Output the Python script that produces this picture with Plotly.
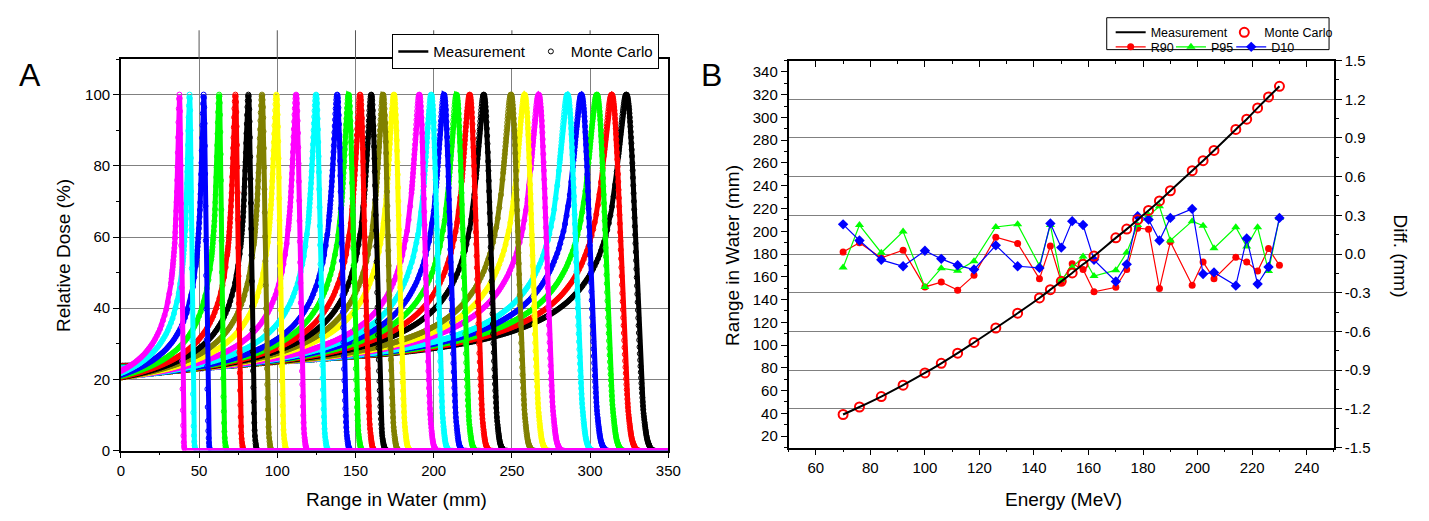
import numpy as np
import plotly.graph_objects as go

# ---------------- Panel A data ----------------
peak_depths_mm = [37.4, 43.9, 52.9, 62.8, 73.2, 81.5, 90.2, 99.4, 112.0, 124.8,
                  138.3, 145.6, 152.9, 160.1, 167.6, 174.6, 190.8, 198.4, 206.6, 214.6,
                  223.0, 232.0, 249.4, 258.1, 267.1, 285.5, 294.4, 304.3, 313.8, 323.2]
palette = ["#FF00FF", "#00FFFF", "#0000FF", "#00FF00", "#FF0000", "#000000", "#808000", "#FFFF00"]
xticks_A = [0, 50, 100, 150, 200, 250, 300, 350]
yticks_A = [0, 20, 40, 60, 80, 100]

# ---------------- Panel B data ----------------
energies_MeV = [70, 76, 84, 92, 100, 106, 112, 118, 126, 134, 142, 146, 150, 154, 158,
                162, 170, 174, 178, 182, 186, 190, 198, 202, 206, 214, 218, 222, 226, 230]
range_measured = [39.0, 45.6, 54.8, 64.8, 75.5, 84.0, 92.9, 102.3, 115.0, 128.0, 141.4, 148.7,
                  156.0, 163.4, 171.0, 178.2, 194.2, 201.9, 210.2, 218.3, 226.7, 235.6, 253.2,
                  262.0, 271.0, 289.5, 298.5, 308.4, 318.0, 327.4]
range_mc = [39.0, 45.6, 54.8, 64.8, 75.5, 84.0, 92.9, 102.3, 115.0, 128.0, 141.4, 148.7,
            156.0, 163.4, 171.0, 178.2, 194.2, 201.9, 210.2, 218.3, 226.7, 235.6, 253.2,
            262.0, 271.0, 289.5, 298.5, 308.4, 318.0, 327.4]
diff_r90 = [0.015, 0.0875, -0.03, 0.03, -0.255, -0.2175, -0.28, -0.165, 0.13, 0.0825,
            -0.1925, 0.0625, -0.215, -0.075, -0.12, -0.2925, -0.2575, -0.12, 0.2, 0.1925,
            -0.2675, 0.095, -0.2425, -0.0625, -0.1925, -0.025, -0.0625, -0.1325, 0.0425, -0.0875]
diff_p95 = [-0.105, 0.225, 0.01, 0.175, -0.255, -0.11, -0.13, -0.055, 0.21, 0.23,
            -0.09, 0.225, -0.2, -0.105, -0.02, -0.17, -0.125, 0.0125, 0.225, 0.3,
            0.37, 0.105, 0.255, 0.22, 0.045, 0.2075, 0.0575, 0.2075, -0.1325, 0.28]
diff_d10 = [0.23, 0.105, -0.045, -0.095, 0.025, -0.0375, -0.0875, -0.12, 0.0675, -0.095,
            -0.1075, 0.2375, 0.05, 0.255, 0.225, -0.045, -0.2125, -0.08, 0.2925, 0.2675,
            0.105, 0.28, 0.35, -0.155, -0.1425, -0.245, 0.12, -0.2325, -0.1, 0.28]
xticks_B = [60, 80, 100, 120, 140, 160, 180, 200, 220, 240]
yticks_B_left = list(range(20, 341, 20))
yticks_B_right = [-1.5, -1.2, -0.9, -0.6, -0.3, 0.0, 0.3, 0.6, 0.9, 1.2, 1.5]
yticktext_B_right = ["-1.5", "-1.2", "-0.9", "-0.6", "-0.3", "0.0", "0.3", "0.6", "0.9", "1.2", "1.5"]

# ---------------- Bragg curve shape (Bortfeld-type model) ----------------
P_EXP = 1.77
NUC = 0.015
DZ = 0.05
ZG = np.arange(-30.0, 380.0, DZ)


def _build(r_mm):
    r_cm = r_mm / 10.0
    d = (r_mm - ZG) / 10.0
    dc = np.clip(d, 1e-4, None)
    D = np.where(d > 0, dc ** (1 / P_EXP - 1) + NUC * dc ** (1 / P_EXP), 0.0)
    sig_cm = np.sqrt((0.012 * r_cm ** 0.935) ** 2 + (0.045 + 0.0072 * r_cm) ** 2)
    sig_mm = 10 * sig_cm
    n = int(5 * sig_mm / DZ) + 1
    k = np.exp(-0.5 * (np.arange(-n, n + 1) * DZ / sig_mm) ** 2)
    k /= k.sum()
    return np.convolve(D, k, mode="same")


def bragg(peak):
    dc = _build(peak + 2.0)
    zmax = ZG[np.argmax(dc)]
    dc = _build(peak + 2.0 + (peak - zmax))
    return dc / dc.max() * 100.0


FONT = "Liberation Sans, Arial, sans-serif"
fig = go.Figure()

z_line = np.arange(0, 350.001, 0.25)
n_curves = len(peak_depths_mm)
for i in reversed(range(n_curves)):
    pk = peak_depths_mm[i]
    col = palette[i % len(palette)]
    prof = bragg(pk)
    y_line = np.interp(z_line, ZG, prof)
    fig.add_trace(go.Scatter(x=z_line, y=y_line, mode="lines", line=dict(color=col, width=5),
                             showlegend=False, hoverinfo="skip", xaxis="x", yaxis="y"))
    z_mc = np.concatenate([np.arange(0, pk - 5, 1.0), np.arange(pk - 5, pk + 15, 0.2)])
    y_mc = np.interp(z_mc, ZG, prof)
    keep = y_mc > 0.5
    fig.add_trace(go.Scatter(x=z_mc[keep], y=y_mc[keep], mode="markers",
                             marker=dict(symbol="circle-open", size=5, color=col, line=dict(width=1, color=col)),
                             showlegend=False, hoverinfo="skip", xaxis="x", yaxis="y"))

# Panel A legend entries
fig.add_trace(go.Scatter(x=[None], y=[None], mode="lines", name="Measurement",
                         line=dict(color="black", width=2.5), legend="legend", xaxis="x", yaxis="y"))
fig.add_trace(go.Scatter(x=[None], y=[None], mode="markers", name="Monte Carlo",
                         marker=dict(symbol="circle-open", size=5, color="black", line=dict(width=1)),
                         legend="legend", xaxis="x", yaxis="y"))

# ---------------- Panel B ----------------
fig.add_trace(go.Scatter(x=energies_MeV, y=diff_r90, mode="lines+markers", name="R90",
                         line=dict(color="#FF0000", width=1.2),
                         marker=dict(symbol="circle", size=7, color="#FF0000"),
                         legend="legend4", xaxis="x2", yaxis="y3"))
fig.add_trace(go.Scatter(x=energies_MeV, y=diff_p95, mode="lines+markers", name="P95",
                         line=dict(color="#00FF00", width=1.2),
                         marker=dict(symbol="triangle-up", size=8, color="#00FF00"),
                         legend="legend5", xaxis="x2", yaxis="y3"))
fig.add_trace(go.Scatter(x=energies_MeV, y=diff_d10, mode="lines+markers", name="D10",
                         line=dict(color="#0000FF", width=1.2),
                         marker=dict(symbol="diamond", size=8, color="#0000FF"),
                         legend="legend6", xaxis="x2", yaxis="y3"))
fig.add_trace(go.Scatter(x=energies_MeV, y=range_mc, mode="markers", name="Monte Carlo",
                         marker=dict(symbol="circle-open", size=9, color="#FF0000", line=dict(width=2, color="#FF0000")),
                         legend="legend3", xaxis="x2", yaxis="y4"))
fig.add_trace(go.Scatter(x=energies_MeV, y=range_measured, mode="lines", name="Measurement",
                         line=dict(color="black", width=2, shape="spline"),
                         legend="legend2", xaxis="x2", yaxis="y4"))
# top axis of panel B (inward ticks)
fig.add_trace(go.Scatter(x=[None], y=[None], showlegend=False, hoverinfo="skip", xaxis="x3", yaxis="y3"))

W, H = 1429, 521
def px(x):
    return x / W
def py(y):
    return 1 - y / H

axis_common = dict(showline=True, linecolor="black", linewidth=1.5, ticks="outside",
                   ticklen=6, tickwidth=1.2, tickcolor="black", zeroline=False,
                   tickfont=dict(family=FONT, size=15, color="black"))

shapes = []
for xv in [50, 100, 150, 200, 250, 300]:
    shapes.append(dict(type="line", xref="x", yref="paper", x0=xv, x1=xv,
                       y0=py(51.7), y1=py(22), line=dict(color="#555555", width=1)))
shapes.append(dict(type="rect", xref="paper", yref="paper", x0=px(1116), x1=px(1341),
                   y0=py(42), y1=py(9), line=dict(color="black", width=1), fillcolor="rgba(0,0,0,0)"))


def ann(text, x, y, size, angle=0):
    return dict(text=text, x=px(x), y=py(y), xref="paper", yref="paper", showarrow=False,
                xanchor="center", yanchor="middle", textangle=angle,
                font=dict(family=FONT, size=size, color="black"))


def small_legend(x, y):
    return dict(x=px(x), y=py(y), xanchor="left", yanchor="top", orientation="h",
                bgcolor="rgba(0,0,0,0)", borderwidth=0, itemwidth=30,
                font=dict(family=FONT, size=12.5, color="black"))


fig.update_layout(
    width=W, height=H, margin=dict(l=0, r=0, t=0, b=0),
    paper_bgcolor="white", plot_bgcolor="white",
    font=dict(family=FONT, color="black"),
    xaxis=dict(domain=[px(118.3), px(672.3)], range=[0, 350], tickvals=xticks_A,
               minor=dict(dtick=25, ticklen=3, ticks="outside", tickcolor="black"),
               showgrid=True, gridcolor="#808080", gridwidth=1, mirror=True, anchor="y", **axis_common),
    yaxis=dict(domain=[py(456.5), py(51.7)], range=[0, 110], tickvals=yticks_A,
               minor=dict(dtick=10, ticklen=3, ticks="outside", tickcolor="black"),
               showgrid=True, gridcolor="#808080", gridwidth=1, mirror=True, anchor="x", **axis_common),
    xaxis2=dict(domain=[px(794), px(1346)], range=[50, 250], tickvals=xticks_B,
                minor=dict(dtick=10, ticklen=3, ticks="outside", tickcolor="black"),
                showgrid=False, mirror=True, anchor="y3", **axis_common),
    xaxis3=dict(range=[50, 250], tickvals=xticks_B, overlaying="x2", side="top", anchor="y3",
                showticklabels=False, showline=False, ticks="inside", ticklen=6, tickwidth=1.2,
                tickcolor="black", showgrid=False, zeroline=False,
                minor=dict(dtick=10, ticklen=3, ticks="inside", tickcolor="black")),
    yaxis3=dict(domain=[py(453.3), py(53.3)], range=[-1.5, 1.5], tickvals=yticks_B_right,
                ticktext=yticktext_B_right, side="right", anchor="x2",
                minor=dict(dtick=0.15, ticklen=3, ticks="outside", tickcolor="black"),
                showgrid=True, gridcolor="#808080", gridwidth=1, **axis_common),
    yaxis4=dict(range=[10, 350], tickvals=yticks_B_left, side="left", overlaying="y3", anchor="x2",
                minor=dict(dtick=10, ticklen=3, ticks="outside", tickcolor="black"),
                showgrid=False, **axis_common),
    legend=dict(x=px(393), y=py(26), xanchor="left", yanchor="top", orientation="h",
                bgcolor="white", bordercolor="black", borderwidth=1,
                font=dict(family=FONT, size=15, color="black"), tracegroupgap=0),
    legend2=small_legend(1120, 9),
    legend3=small_legend(1235, 9),
    legend4=small_legend(1120, 24),
    legend5=small_legend(1181, 24),
    legend6=small_legend(1242, 24),
    shapes=shapes,
    annotations=[
        ann("A", 26, 68, 32),
        ann("B", 716, 68, 32),
        ann("Relative Dose (%)", 60, 255, 19, -90),
        ann("Range in Water (mm)", 397, 507, 19),
        ann("Energy (MeV)", 1072, 507, 19),
        ann("Range in Water (mm)", 737, 255, 19, -90),
        ann("Diff. (mm)", 1413, 255, 19, 90),
    ],
)

fig.write_html("out.html")
